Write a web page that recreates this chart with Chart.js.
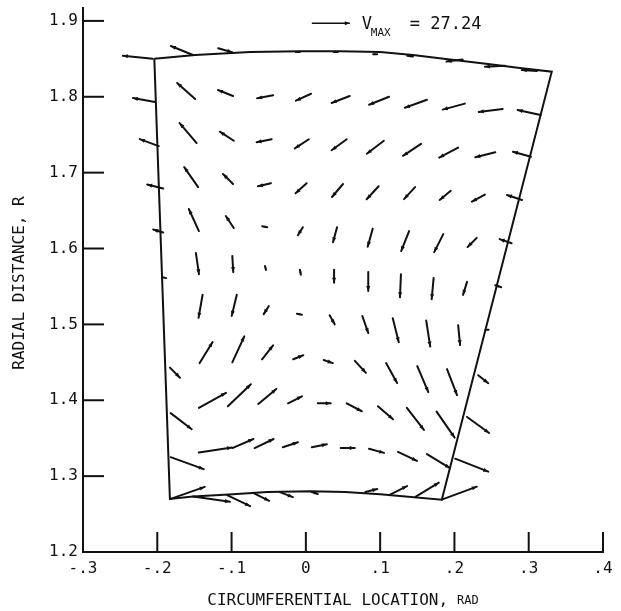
<!DOCTYPE html>
<html>
<head>
<meta charset="utf-8">
<script src="https://cdn.jsdelivr.net/npm/chart.js@4.4.1/dist/chart.umd.min.js"></script>
<style>
  html, body { margin: 0; padding: 0; background: #fff; }
</style>
</head>
<body>
<canvas id="vectorChart" width="621" height="611"></canvas>
<script>
// reference vector (legend)
const VMAX = 27.24;
const VREF_RAD = 0.0512;   // length of the VMAX arrow, in rad of the x axis

const xTicks = [-0.3, -0.2, -0.1, 0, 0.1, 0.2, 0.3, 0.4];
const xTickLabels = ['-.3', '-.2', '-.1', '0', '.1', '.2', '.3', '.4'];
const rTicks = [1.2, 1.3, 1.4, 1.5, 1.6, 1.7, 1.8, 1.9];
const rTickLabels = ['1.2', '1.3', '1.4', '1.5', '1.6', '1.7', '1.8', '1.9'];

// passage outline (top wall, right side, bottom wall, left side)
const wallX = [-0.204, -0.149, -0.075, -0.008, 0.046, 0.100, 0.144, 0.194, 0.248, 0.288, 0.331,
               0.183, 0.100, 0.053, 0.006, -0.052, -0.098, -0.152, -0.183, -0.204];
const wallR = [1.850, 1.855, 1.859, 1.860, 1.860, 1.859, 1.855, 1.849, 1.843, 1.838, 1.833,
               1.269, 1.276, 1.279, 1.280, 1.279, 1.276, 1.273, 1.270, 1.850];

// vector tails (circumferential location, radius) and components (velocity units)
const vecX = [
  -0.206, -0.152, -0.118, -0.008, 0.043, 0.096, 0.144, 0.211, 0.268, 0.311,
  -0.203, -0.149, -0.098, -0.044, 0.007, 0.059, 0.112, 0.163, 0.214, 0.265, 0.316,
  -0.198, -0.147, -0.097, -0.046, 0.004, 0.055, 0.105, 0.155, 0.205, 0.255, 0.303,
  -0.192, -0.145, -0.098, -0.047, 0.001, 0.050, 0.098, 0.147, 0.195, 0.241, 0.291,
  -0.192, -0.144, -0.097, -0.052, -0.004, 0.042, 0.090, 0.139, 0.185, 0.230, 0.277,
  -0.188, -0.148, -0.099, -0.055, -0.008, 0.038, 0.084, 0.128, 0.172, 0.217, 0.263,
  -0.139, -0.093, -0.050, -0.012, 0.032, 0.076, 0.117, 0.162, 0.205, 0.246,
  -0.183, -0.143, -0.099, -0.059, -0.017, 0.024, 0.066, 0.108, 0.150, 0.190, 0.232,
  -0.182, -0.144, -0.105, -0.064, -0.024, 0.016, 0.055, 0.097, 0.136, 0.176, 0.217,
  -0.182, -0.144, -0.099, -0.069, -0.031, 0.008, 0.047, 0.085, 0.124, 0.163, 0.201,
  -0.182, -0.152, -0.106, -0.071, -0.035, 0.008, 0.080, 0.112, 0.148, 0.183
];
const vecR = [
  1.850, 1.855, 1.864, 1.859, 1.859, 1.856, 1.853, 1.849, 1.841, 1.834,
  1.793, 1.797, 1.801, 1.802, 1.804, 1.801, 1.800, 1.796, 1.791, 1.784, 1.776,
  1.735, 1.739, 1.742, 1.744, 1.744, 1.744, 1.742, 1.738, 1.733, 1.727, 1.721,
  1.679, 1.681, 1.685, 1.686, 1.686, 1.685, 1.682, 1.681, 1.676, 1.671, 1.664,
  1.621, 1.623, 1.627, 1.628, 1.628, 1.628, 1.626, 1.623, 1.619, 1.614, 1.607,
  1.561, 1.594, 1.590, 1.577, 1.572, 1.572, 1.569, 1.566, 1.561, 1.556, 1.549,
  1.539, 1.539, 1.524, 1.514, 1.512, 1.511, 1.508, 1.505, 1.499, 1.493,
  1.443, 1.449, 1.450, 1.454, 1.454, 1.453, 1.452, 1.449, 1.445, 1.441, 1.433,
  1.383, 1.390, 1.392, 1.395, 1.396, 1.396, 1.396, 1.392, 1.390, 1.385, 1.378,
  1.325, 1.331, 1.337, 1.337, 1.338, 1.338, 1.337, 1.336, 1.332, 1.329, 1.323,
  1.270, 1.273, 1.275, 1.278, 1.279, 1.279, 1.279, 1.275, 1.273, 1.269
];
const vecU = [
  -21.5, -15.8, 10.0, -2.9, -2.9, -2.9, -4.0, -11.5, -14.3, -10.8,
  -15.8, -12.9, -10.8, -11.5, -10.8, -12.9, -14.3, -15.8, -15.8, -17.2, -16.5,
  -13.6, -12.2, -10.0, -10.8, -10.0, -10.8, -12.2, -12.9, -13.6, -14.3, -12.9,
  -11.5, -10.0, -7.2, -9.3, -7.9, -7.9, -8.6, -7.9, -7.9, -9.3, -10.8,
  -7.2, -7.2, -5.7, -3.6, -3.6, -2.9, -3.6, -5.7, -6.5, -6.5, -8.6,
  -2.9, 2.2, 0.7, 0.7, 0.7, 0, 0, -0.7, -1.4, -2.9, -4.3,
  -2.9, -3.6, -3.6, 3.6, 3.6, 4.3, 4.3, 2.9, 1.4, -2.2,
  7.2, 9.3, 8.6, 7.9, 7.2, 6.5, 7.9, 7.9, 7.9, 7.2, 7.2,
  15.1, 19.4, 16.5, 12.9, 10.0, 9.3, 10.8, 10.8, 12.2, 12.9, 15.8,
  23.7, 23.7, 15.1, 13.6, 10.8, 10.8, 10.0, 10.8, 13.6, 16.5, 23.7,
  24.4, 26.5, 16.5, 11.5, 9.3, 4.3, 8.6, 12.9, 16.5, 25.1
];
const vecV = [
  2.2, 6.5, -2.9, 0, 0, 0, 0.5, -1.4, -0.7, 0.7,
  2.9, 11.5, 4.3, -2.2, -5.0, -5.0, -5.7, -5.7, -4.3, -2.2, 3.6,
  5.0, 14.3, 6.5, -2.2, -6.5, -7.9, -9.3, -8.6, -7.2, -3.6, 3.6,
  2.9, 14.3, 7.2, -2.2, -7.2, -9.3, -9.3, -8.6, -6.5, -5.0, 3.6,
  2.2, 15.8, 8.6, 0.7, -5.7, -10.8, -12.9, -14.3, -12.9, -6.5, 2.9,
  0.7, -15.1, -11.5, -2.9, -3.6, -9.3, -13.6, -16.5, -15.1, -9.3, 1.4,
  -16.5, -15.1, -5.7, -0.7, -6.5, -12.2, -17.2, -18.6, -14.3, 0,
  -7.2, 15.1, 18.6, 10.0, 2.9, -2.2, -8.6, -14.3, -18.6, -18.6, -5.7,
  -11.5, 10.8, 15.8, 10.8, 5.0, 0, -5.7, -9.3, -15.8, -18.6, -11.5,
  -8.6, 3.6, 6.5, 6.5, 3.6, 2.2, 0, -2.9, -6.5, -10.0, -9.3,
  8.6, -3.6, -7.9, -5.7, -3.6, -1.4, 2.2, 6.5, 10.0, 9.3
];

const legendX = 0.008;
const legendR = 1.897;

const FONT = 'DejaVu Sans Mono';
const INK = '#111';

function arrow(ctx, x1, y1, x2, y2, head) {
  ctx.beginPath();
  ctx.moveTo(x1, y1);
  ctx.lineTo(x2, y2);
  ctx.stroke();
  const len = Math.hypot(x2 - x1, y2 - y1);
  if (len < 1) return;
  const ux = (x2 - x1) / len, uy = (y2 - y1) / len;
  const h = Math.min(head, len * 0.6);
  ctx.beginPath();
  ctx.moveTo(x2, y2);
  ctx.lineTo(x2 - ux * h - uy * h * 0.4, y2 - uy * h + ux * h * 0.4);
  ctx.lineTo(x2 - ux * h + uy * h * 0.4, y2 - uy * h - ux * h * 0.4);
  ctx.closePath();
  ctx.fill();
}

// draws the velocity arrows, inward tick marks, titles and the VMAX key
const quiverPlugin = {
  id: 'quiver',
  afterDraw(chart) {
    const { ctx, chartArea, scales: { x, y } } = chart;
    const k = (x.getPixelForValue(VREF_RAD) - x.getPixelForValue(0)) / VMAX;

    ctx.save();
    ctx.strokeStyle = INK;
    ctx.fillStyle = INK;
    ctx.lineCap = 'round';

    // velocity arrows
    ctx.lineWidth = 2;
    chart.getDatasetMeta(1).data.forEach((pt, i) => {
      arrow(ctx, pt.x, pt.y, pt.x + vecU[i] * k, pt.y - vecV[i] * k, 5);
    });

    // inward tick marks
    ctx.lineCap = 'butt';
    xTicks.slice(1).forEach(v => {
      const px = x.getPixelForValue(v);
      ctx.beginPath();
      ctx.moveTo(px, chartArea.bottom);
      ctx.lineTo(px, chartArea.bottom - 20);
      ctx.stroke();
    });
    rTicks.slice(1).forEach(v => {
      const py = y.getPixelForValue(v);
      ctx.beginPath();
      ctx.moveTo(chartArea.left, py);
      ctx.lineTo(chartArea.left + 21, py);
      ctx.stroke();
    });

    // key
    const lx = x.getPixelForValue(legendX);
    const ly = y.getPixelForValue(legendR);
    ctx.lineWidth = 1.5;
    arrow(ctx, lx, ly, lx + VMAX * k, ly, 5);
    ctx.textBaseline = 'alphabetic';
    ctx.textAlign = 'left';
    ctx.font = '17px ' + FONT;
    const vx = lx + VMAX * k + 12;
    ctx.fillText('V', vx, ly + 6);
    ctx.font = '11px ' + FONT;
    ctx.fillText('MAX', vx + 9, ly + 13);
    ctx.font = '17px ' + FONT;
    ctx.fillText('= 27.24', vx + 48, ly + 6);

    // axis titles
    ctx.font = '16px ' + FONT;
    const main = 'CIRCUMFERENTIAL LOCATION,';
    const wMain = ctx.measureText(main).width;
    ctx.font = '12px ' + FONT;
    const wRad = ctx.measureText('RAD').width;
    const total = wMain + 9 + wRad;
    const tx = (chartArea.left + chartArea.right) / 2 - total / 2;
    ctx.font = '16px ' + FONT;
    ctx.fillText(main, tx, 605);
    ctx.font = '12px ' + FONT;
    ctx.fillText('RAD', tx + wMain + 9, 604);

    ctx.translate(24, 283);
    ctx.rotate(-Math.PI / 2);
    ctx.textAlign = 'center';
    ctx.font = '16px ' + FONT;
    ctx.fillText('RADIAL DISTANCE, R', 0, 0);
    ctx.restore();
  }
};

const ctx = document.getElementById('vectorChart').getContext('2d');
new Chart(ctx, {
  type: 'scatter',
  data: {
    datasets: [{
      label: 'passage',
      data: wallX.map((v, i) => ({ x: v, y: wallR[i] })),
      showLine: true,
      borderColor: INK,
      borderWidth: 2,
      pointRadius: 0,
      tension: 0
    }, {
      label: 'velocity',
      data: vecX.map((v, i) => ({ x: v, y: vecR[i] })),
      pointRadius: 0,
      showLine: false
    }]
  },
  options: {
    responsive: false,
    animation: false,
    layout: { padding: { top: 8, right: 18, left: 0, bottom: 0 } },
    plugins: { legend: { display: false }, tooltip: { enabled: false } },
    scales: {
      x: {
        type: 'linear',
        min: -0.3,
        max: 0.4,
        afterBuildTicks: s => { s.ticks = xTicks.map(v => ({ value: v })); },
        afterFit: s => { s.height = 59; s.paddingLeft = 0; s.paddingRight = 0; },
        grid: { display: false, drawTicks: false },
        border: { display: true, color: INK, width: 2 },
        ticks: {
          autoSkip: false,
          maxRotation: 0,
          padding: 7,
          color: INK,
          font: { family: FONT, size: 16 },
          callback: (value, index) => xTickLabels[index]
        }
      },
      y: {
        type: 'linear',
        min: 1.2,
        max: 1.917,
        afterBuildTicks: s => { s.ticks = rTicks.map(v => ({ value: v })); },
        afterFit: s => { s.width = 83; s.paddingTop = 0; s.paddingBottom = 0; },
        grid: { display: false, drawTicks: false },
        border: { display: true, color: INK, width: 2 },
        ticks: {
          autoSkip: false,
          padding: 5,
          color: INK,
          font: { family: FONT, size: 16 },
          callback: (value, index) => rTickLabels[index]
        }
      }
    }
  },
  plugins: [quiverPlugin]
});
</script>
</body>
</html>
